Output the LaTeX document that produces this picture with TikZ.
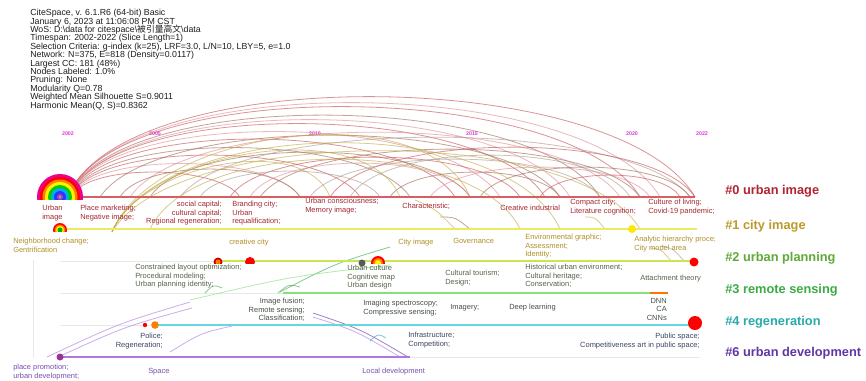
\documentclass[tikz,border=0pt]{standalone}
\usepackage{fontspec}
\setmainfont{Liberation Sans}
\newfontfamily\cjkfont{Noto Sans CJK SC}
\usetikzlibrary{positioning}
\setlength{\lineskiplimit}{-5pt}
\definecolor{hdrc}{RGB}{30,30,30}
\definecolor{yearc}{RGB}{220,60,220}
\definecolor{cl0}{RGB}{178,36,48}
\definecolor{cl1}{RGB}{185,155,45}
\definecolor{cl2}{RGB}{95,170,55}
\definecolor{cl3}{RGB}{60,170,70}
\definecolor{cl4}{RGB}{40,170,170}
\definecolor{cl6}{RGB}{95,55,165}
\definecolor{tx0}{RGB}{165,40,50}
\definecolor{tx1}{RGB}{175,145,40}
\definecolor{tx2}{RGB}{85,100,75}
\definecolor{tx3}{RGB}{70,80,70}
\definecolor{tx4}{RGB}{60,70,100}
\definecolor{tx6}{RGB}{120,80,175}
\definecolor{ln0}{RGB}{215,95,100}
\definecolor{ln1}{RGB}{235,235,95}
\definecolor{ln2}{RGB}{200,230,80}
\definecolor{ln3}{RGB}{130,225,120}
\definecolor{ln4}{RGB}{100,215,225}
\definecolor{ln6}{RGB}{175,120,225}
\definecolor{arcr}{RGB}{200,80,85}
\definecolor{arcb}{RGB}{160,105,85}
\definecolor{arco}{RGB}{195,170,70}
\definecolor{arcp}{RGB}{225,140,150}
\definecolor{arcg}{RGB}{170,155,145}
\tikzset{
  hdr/.style={inner sep=0pt, anchor=north west, align=left, text=hdrc, font=\fontsize{6.6}{6.3}\selectfont},
  lbl/.style={inner sep=0pt, anchor=north west, align=left, font=\fontsize{5.6}{6.4}\selectfont},
  lblr/.style={lbl, anchor=north east, align=right},
  cluster/.style={inner sep=0pt, anchor=west, font=\fontsize{9.6}{11}\selectfont\bfseries},
  lane/.style={line width=1.7pt},
  yearlbl/.style={inner sep=0pt, text=yearc, font=\fontsize{4}{4}\selectfont\bfseries},
  link/.style={line width=0.6pt, opacity=0.62},
  faint/.style={line width=0.5pt, black!9},
}
\begin{document}
\begin{tikzpicture}[x=0.75pt, y=-0.75pt]
\useasboundingbox[fill=white] (0,0) rectangle (866,380);
\node[hdr] (info) at (30,9) {CiteSpace, v. 6.1.R6 (64-bit) Basic\\
January 6, 2023 at 11:06:08 PM CST\\
WoS: D:\textbackslash data for citespace\textbackslash{\cjkfont 被引量高文}\textbackslash data\\
Timespan: 2002-2022 (Slice Length=1)\\
Selection Criteria: g-index (k=25), LRF=3.0, L/N=10, LBY=5, e=1.0\\
Network: N=375, E=818 (Density=0.0117)\\
Largest CC: 181 (48\%)\\
Nodes Labeled: 1.0\%\\
Pruning: None\\
Modularity Q=0.78\\
Weighted Mean Silhouette S=0.9011\\
Harmonic Mean(Q, S)=0.8362};
\foreach \x/\yr in {68/2002,155/2005,315/2010,472/2015,632/2020,702/2022}
  \node[yearlbl] (y\yr) at (\x,134) {\yr};
\draw[faint] (33,260) -- (33,358);
\draw[faint] (60,261) -- (217,261) (60,293) -- (283,293) (60,325) -- (157,325) (410,357) -- (700,357);
\foreach \a/\ya/\b/\yb/\h/\col in {
  72/188/695/197/96/arcr, 72/188/660/197/90/arcp, 72/188/640/197/86/arcr,
  72/189/600/197/78/arcb, 72/190/570/197/74/arcp,
  72/190/545/197/70/arcr, 72/190/500/197/62/arcp, 72/191/455/197/55/arcr,
  72/192/410/197/47/arcb, 72/193/360/197/40/arcr, 72/194/300/197/32/arcp,
  72/195/240/197/24/arcr, 100/197/560/197/62/arcb, 130/197/620/197/65/arcp,
  150/197/470/197/45/arcb, 180/197/690/197/60/arcg, 230/197/520/197/40/arcr,
  260/197/640/197/48/arcb, 310/197/600/197/38/arcg, 330/197/695/197/50/arcr,
  390/197/560/197/25/arcb, 430/197/650/197/30/arcp, 480/197/690/197/30/arcb,
  540/197/680/197/22/arcr, 200/197/380/197/26/arcg, 120/197/300/197/28/arcb,
  250/197/470/197/34/arcp, 350/197/630/197/42/arcg,
  112/232/470/197/78/arco, 112/232/560/229/88/arco, 112/232/400/197/62/arco,
  112/232/640/229/80/arco, 112/232/330/197/50/arco, 150/229/520/229/70/arco}
  \draw[link,\col] (\a,\ya) .. controls ({\a+0.12*(\b-\a)},{\ya-1.33*\h}) and ({\b-0.12*(\b-\a)},{\yb-1.33*\h}) .. (\b,\yb);
\foreach \a/\ya/\b/\yb/\col in {
  47/357/190/302/ln6, 58/357/192/308/ln6, 170/352/232/326/ln6,
  313/313/408/357/cl6, 313/317/400/357/ln6, 370/341/386/338/cl4,
  280/292/390/247/cl3, 205/293/222/288/cl3, 278/293/300/287/cl3,
  190/300/390/265/ln3, 440/217/470/229/arcb, 415/200/455/229/arco,
  650/248/672/262/arco, 660/246/685/262/arcg, 585/217/605/229/arco}
  \draw[link] [\col] (\a,\ya) .. controls ({(\a+\b)/2},{(\ya+\yb)/2-6}) .. (\b,\yb);
\foreach \i/\y/\xs/\xe in {0/197/80/695,1/229/67/697,2/261/217/694,3/293/283/668,4/325/157/695,6/357/60/410}{
  \coordinate (s\i) at (\xs,\y);
  \coordinate (e\i) at (\xe,\y);
  \draw[lane,ln\i] (s\i) -- (e\i);
}
\draw[line width=2pt, orange!90!red] (650,293) -- (668,293);
\scope
\clip (20,150) rectangle (100,199);
\foreach \r/\col in {23/magenta,20/red,17.5/orange,15/yellow,12/green!80!black,9/cyan,6/blue!80,3/violet!70}
  \fill[\col] (60,197) circle (\r);
\fill[gray!60] (60,197) circle (1.2);
\endscope
\scope
\clip (40,215) rectangle (80,231);
\foreach \r/\col in {7/red,5.5/orange,4/yellow,2.5/green!70!black}
  \fill[\col] (60,230) circle (\r);
\endscope
\scope
\clip (200,250) rectangle (400,263);
\fill[red!80!black] (218,262) circle (4.5);
\fill[orange] (218,262) circle (2.5);
\fill[red] (250,262) circle (5);
\fill[red] (378,263) circle (7);
\fill[orange] (378,263) circle (5);
\fill[yellow] (378,263) circle (3);
\endscope
\fill[gray!70!black] (362,263) circle (3.5);
\fill[red] (694,262) circle (4.5);
\fill[yellow!90!orange] (632,229) circle (4);
\fill[red] (145,325) circle (2.2);
\fill[orange] (155,325) circle (3.8);
\fill[red] (695,323) circle (7);
\fill[violet!80] (60,357) circle (3.5);
\node[cluster, text=cl0] (k0) at (725,191) {\#0 urban image};
\node[cluster, text=cl1] (k1) at (725,226) {\#1 city image};
\node[cluster, text=cl2] (k2) at (725,258) {\#2 urban planning};
\node[cluster, text=cl3] (k3) at (725,290) {\#3 remote sensing};
\node[cluster, text=cl4] (k4) at (725,322) {\#4 regeneration};
\node[cluster, text=cl6] (k6) at (725,353) {\#6 urban development};
\node[lbl, text=tx0] (a1) at (42,205) {Urban\\image};
\node[lbl, text=tx0] (a2) at (80,205) {Place marketing;\\Negative image;};
\node[lblr, text=tx0] (a3) at (222,201) {social capital;\\cultural capital;\\Regional regeneration;};
\node[lbl, text=tx0] (a4) at (232,201) {Branding city;\\Urban\\requalification;};
\node[lbl, text=tx0] (a5) at (305,198) {Urban consciousness;\\Memory image;};
\node[lbl, text=tx0] (a6) at (402,203) {Characteristic;};
\node[lbl, text=tx0] (a7) at (500,205) {Creative industrial};
\node[lbl, text=tx0] (a8) at (570,199) {Compact city;\\Literature cognition;};
\node[lbl, text=tx0] (a9) at (648,199) {Culture of living;\\Covid-19 pandemic;};
\node[lbl, text=tx1] (b1) at (13,238) {Neighborhood change;\\Gentrification};
\node[lbl, text=tx1] (b2) at (229,239) {creative city};
\node[lbl, text=tx1] (b3) at (398,239) {City image};
\node[lbl, text=tx1] (b4) at (453,238) {Governance};
\node[lbl, text=tx1] (b5) at (525,234) {Environmental graphic;\\Assessment;\\Identity;};
\node[lbl, text=tx1] (b6) at (634,236) {Analytic hierarchy proce;\\City model area};
\node[lbl, text=tx2] (d1) at (135,264) {Constrained layout optimization;\\Procedural modeling;\\Urban planning identity;};
\node[lbl, text=tx2] (d2) at (347,265) {Urban culture\\Cognitive map\\Urban design};
\node[lbl, text=tx2] (d3) at (445,270) {Cultural tourism;\\Design;};
\node[lbl, text=tx2] (d4) at (525,264) {Historical urban environment;\\Cultural heritage;\\Conservation;};
\node[lbl, text=tx2] (d5) at (640,275) {Attachment theory};
\node[lblr, text=tx3] (f1) at (305,298) {Image fusion;\\Remote sensing;\\Classification;};
\node[lbl, text=tx3] (f2) at (363,300) {Imaging spectroscopy;\\Compressive sensing;};
\node[lbl, text=tx3] (f3) at (450,304) {Imagery;};
\node[lbl, text=tx3] (f4) at (509,304) {Deep learning};
\node[lblr, text=tx3] (f5) at (667,298) {DNN\\CA\\CNNs};
\node[lblr, text=tx4] (g1) at (163,333) {Police;\\Regeneration;};
\node[lbl, text=tx4] (g2) at (408,332) {Infrastructure;\\Competition;};
\node[lblr, text=tx4] (g3) at (700,333) {Public space;\\Competitiveness art in public space;};
\node[lbl, text=tx6] (h1) at (13,364) {place promotion;\\urban development;};
\node[lbl, text=tx6] (h2) at (148,368) {Space};
\node[lbl, text=tx6] (h3) at (362,368) {Local development};
\end{tikzpicture}
\end{document}
